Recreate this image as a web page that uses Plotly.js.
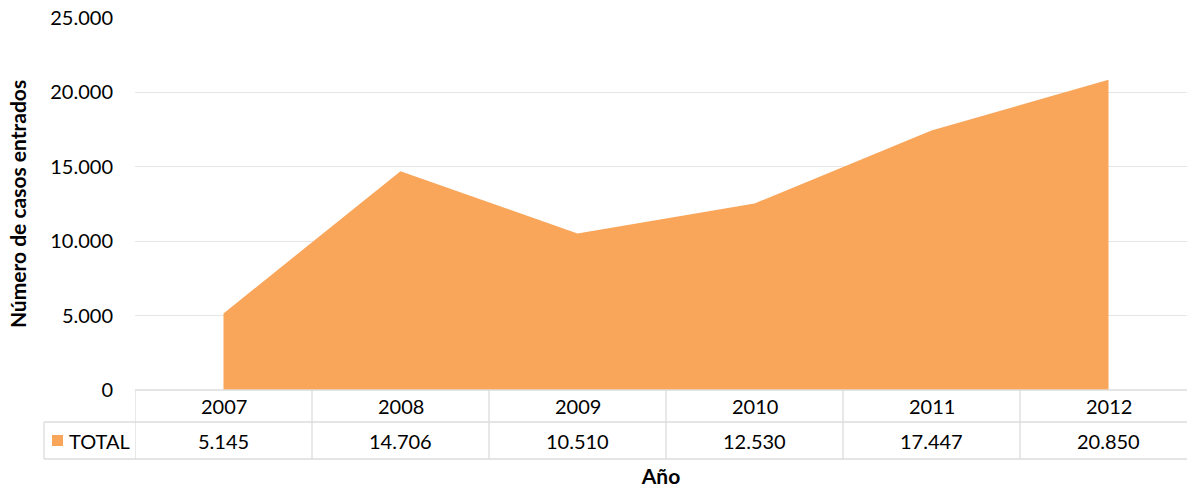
<!DOCTYPE html>
<html>
<head>
<meta charset="utf-8">
<script src="https://cdn.plot.ly/plotly-3.0.1.min.js"></script>
<style>html,body{margin:0;padding:0;background:#fff;}#chart{width:1187px;height:488px;}</style>
</head>
<body>
<div id="chart"></div>
<script>
const years = ['2007', '2008', '2009', '2010', '2011', '2012'];
const totals = [5145, 14706, 10510, 12530, 17447, 20850];
const seriesName = 'TOTAL';
const yTicks = [0, 5000, 10000, 15000, 20000, 25000];

const W = 1187, H = 488;
const M = {l: 135, r: 0, t: 18, b: 98};
const plotW = W - M.l - M.r, plotH = H - M.t - M.b;
const colW = 177;
const orange = '#F9A55A';
const border = '#DCDCDC';
const FONT = 'Lato, "Open Sans", sans-serif';

function px2py(py) { return 1 - (py - M.t) / plotH; }
function px2pxp(px) { return (px - M.l) / plotW; }

const xMax = -0.5 + plotW / colW;
const rowMid = 422, rowBot = 459, tableTop = H - M.b;
const fmt = v => v.toLocaleString('de-DE');

const shapes = [];
const lineStyle = {color: border, width: 1.3};
// horizontal table lines
shapes.push({type: 'line', xref: 'paper', yref: 'paper', x0: 0, x1: 1, y0: 0, y1: 0, line: lineStyle});
shapes.push({type: 'line', xref: 'paper', yref: 'paper', x0: px2pxp(44), x1: 1, y0: px2py(rowMid), y1: px2py(rowMid), line: lineStyle});
shapes.push({type: 'line', xref: 'paper', yref: 'paper', x0: px2pxp(44), x1: 1, y0: px2py(rowBot), y1: px2py(rowBot), line: lineStyle});
// vertical lines
shapes.push({type: 'line', xref: 'paper', yref: 'paper', x0: px2pxp(44), x1: px2pxp(44), y0: px2py(rowMid), y1: px2py(rowBot), line: lineStyle});
for (let i = 0; i <= years.length; i++) {
  shapes.push({type: 'line', xref: 'x', yref: 'paper', x0: i - 0.5, x1: i - 0.5, y0: 0, y1: px2py(rowBot), line: lineStyle});
}
// legend key
shapes.push({type: 'rect', xref: 'paper', yref: 'paper', x0: px2pxp(52), x1: px2pxp(63), y0: px2py(446), y1: px2py(435), fillcolor: orange, line: {width: 0}});

const annotations = [];
years.forEach((yr, i) => {
  annotations.push({x: i, y: px2py((tableTop + rowMid) / 2), xref: 'x', yref: 'paper', text: yr, showarrow: false, font: {family: FONT, size: 20, color: '#000'}, xanchor: 'center', yanchor: 'middle'});
  annotations.push({x: i, y: px2py((rowMid + rowBot) / 2), xref: 'x', yref: 'paper', text: fmt(totals[i]), showarrow: false, font: {family: FONT, size: 20, color: '#000'}, xanchor: 'center', yanchor: 'middle'});
});
annotations.push({x: px2pxp(67), y: px2py((rowMid + rowBot) / 2), xref: 'paper', yref: 'paper', text: seriesName, showarrow: false, font: {family: FONT, size: 20, color: '#000'}, xanchor: 'left', yanchor: 'middle'});

const trace = {
  x: years.map((_, i) => i),
  y: totals,
  type: 'scatter',
  mode: 'lines',
  fill: 'tozeroy',
  fillcolor: orange,
  line: {width: 0, color: orange},
  name: seriesName,
  hoverinfo: 'skip'
};

const layout = {
  width: W, height: H,
  margin: M,
  paper_bgcolor: '#fff', plot_bgcolor: '#fff',
  showlegend: false,
  separators: ',.',
  font: {family: FONT, size: 20, color: '#000'},
  xaxis: {
    range: [-0.5, xMax],
    showgrid: false, zeroline: false, showline: false,
    showticklabels: false, ticks: '',
    fixedrange: true,
    title: {text: 'Año', font: {family: FONT, size: 21, color: '#000', weight: 'bold'}, standoff: 81}
  },
  yaxis: {
    range: [0, 25000],
    tickvals: yTicks,
    tickformat: ',d',
    showgrid: true, gridcolor: '#E6E6E6', gridwidth: 1.3,
    zeroline: false, showline: false, ticks: '',
    ticklabelstandoff: 21,
    tickfont: {family: FONT, size: 20, color: '#000'},
    title: {text: 'Número de casos entrados', font: {family: FONT, size: 21, color: '#000', weight: 'bold'}, standoff: 17},
    fixedrange: true
  },
  shapes: shapes,
  annotations: annotations
};

Plotly.newPlot('chart', [trace], layout, {displayModeBar: false, staticPlot: true});
</script>
</body>
</html>
